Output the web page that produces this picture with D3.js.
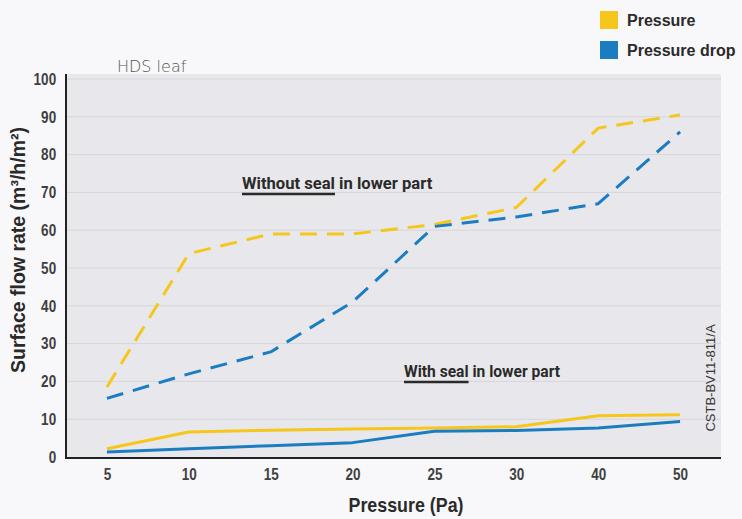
<!DOCTYPE html>
<html><head><meta charset="utf-8">
<script src="https://cdn.jsdelivr.net/npm/d3@7/dist/d3.min.js"></script>
<style>
html,body{margin:0;padding:0;background:#f8f8fa;}
svg{display:block;}
</style></head>
<body><svg id="c" width="742" height="519"></svg>
<script>
const categories = ["5","10","15","20","25","30","40","50"];
const pressureNoSeal = [18.5, 53.8, 59, 59, 61.5, 66, 87, 90.5];
const dropNoSeal = [15.5, 22, 27.8, 41, 61, 63.5, 67, 86];
const pressureSeal = [2.2, 6.6, 7.1, 7.4, 7.7, 8.0, 10.9, 11.2];
const dropSeal = [1.3, 2.2, 3.0, 3.8, 6.8, 7.0, 7.7, 9.4];
const yTicks = [0,10,20,30,40,50,60,70,80,90,100];
const legendItems = [{label:"Pressure", color:"#f6c61c"},{label:"Pressure drop", color:"#1c7cc0"}];

const YEL = "#f6c61c", BLU = "#1c7cc0";
const svg = d3.select("#c");
const L = 66, R = 721, T = 79, B = 457;
const narrow = "'Liberation Sans','Arial',sans-serif";

const x = d3.scalePoint().domain(categories).range([L, R]).padding(0.5);
const y = d3.scaleLinear().domain([0,100]).range([B, T]);

svg.append("rect").attr("x",L).attr("y",T-5).attr("width",R-L).attr("height",B-T+5).attr("fill","#e8e8ec");

// grid
svg.append("g").selectAll("line").data(yTicks.filter(d=>d>0)).join("line")
  .attr("x1",L).attr("x2",R).attr("y1",d=>y(d)).attr("y2",d=>y(d))
  .attr("stroke","#d6d6da").attr("stroke-width",1);

// y axis
const yAxis = svg.append("g").attr("transform",`translate(${L},0)`)
  .call(d3.axisLeft(y).tickValues(yTicks).tickSize(0).tickPadding(12));
yAxis.select(".domain").remove();
yAxis.selectAll("text").attr("font-family",narrow)
  .attr("font-size",16.5).attr("fill","#404040").attr("font-weight","bold")
  .attr("transform","scale(0.82,1)");

// x axis
const xAxis = svg.append("g").attr("transform",`translate(0,${B})`)
  .call(d3.axisBottom(x).tickSize(0).tickPadding(11));
xAxis.select(".domain").remove();
xAxis.selectAll("text").attr("font-family",narrow)
  .attr("font-size",16.5).attr("fill","#404040").attr("font-weight","bold")
  .attr("transform","scale(0.82,1)");

// axis lines
svg.append("line").attr("x1",L).attr("x2",L).attr("y1",T-5).attr("y2",B+1).attr("stroke","#222").attr("stroke-width",2);
svg.append("line").attr("x1",L-1).attr("x2",R).attr("y1",B+1).attr("y2",B+1).attr("stroke","#222").attr("stroke-width",2);

const line = d3.line().x((d,i)=>x(categories[i])).y(d=>y(d));
function drawSeries(vals, color, dashed){
  svg.append("path").datum(vals).attr("d",line).attr("fill","none")
    .attr("stroke",color).attr("stroke-width",3).attr("stroke-linejoin","round")
    .attr("stroke-dasharray", dashed ? "17,10" : null);
}
drawSeries(pressureSeal, YEL, false);
drawSeries(dropSeal, BLU, false);
drawSeries(pressureNoSeal, YEL, true);
drawSeries(dropNoSeal, BLU, true);

// annotations
const annFont = "Roboto,'Liberation Sans',Arial,sans-serif";
function annot(xp, yp, under, rest, fs){
  const t = svg.append("text").attr("x",xp).attr("y",yp).attr("font-family",annFont)
    .attr("font-size",fs).attr("font-weight","bold").attr("fill","#2a2a2a");
  const u = t.append("tspan").text(under);
  t.append("tspan").text(" " + rest);
  const w = u.node().getComputedTextLength();
  svg.append("line").attr("x1",xp).attr("x2",xp+w).attr("y1",yp+5).attr("y2",yp+5)
    .attr("stroke","#2a2a2a").attr("stroke-width",2.5);
}
annot(242, 189, "Without seal", "in lower part", 16.6);
annot(404, 377, "With seal", "in lower part", 15.6);

// axis titles
svg.append("text").attr("transform","translate(406,512) scale(0.85,1)").attr("text-anchor","middle")
  .attr("font-family",narrow)
  .attr("font-size",21).attr("font-weight","bold").attr("fill","#2a2a2a").text("Pressure (Pa)");
svg.append("text").attr("transform","translate(25,250) rotate(-90)").attr("text-anchor","middle")
  .attr("font-family",narrow)
  .attr("font-size",19.5).attr("font-weight","bold").attr("fill","#2a2a2a").text("Surface flow rate (m³/h/m²)");

// HDS leaf
svg.append("text").attr("x",117).attr("y",72).attr("font-family","'DejaVu Sans',sans-serif")
  .attr("font-size",16).attr("font-weight","200").attr("fill","#555").text("HDS leaf");

// vertical ref
svg.append("text").attr("transform","translate(715,378) rotate(-90)").attr("text-anchor","middle")
  .attr("font-family",narrow)
  .attr("font-size",13).attr("fill","#333").text("CSTB-BV11-811/A");

// legend
const lg = svg.append("g").selectAll("g").data(legendItems).join("g")
  .attr("transform",(d,i)=>`translate(600,${11+i*30})`);
lg.append("rect").attr("width",18).attr("height",18).attr("fill",d=>d.color);
lg.append("text").attr("x",27).attr("y",15).attr("font-family",narrow)
  .attr("font-size",16).attr("font-weight","bold").attr("fill","#2a2a2a").text(d=>d.label);
</script></body></html>
